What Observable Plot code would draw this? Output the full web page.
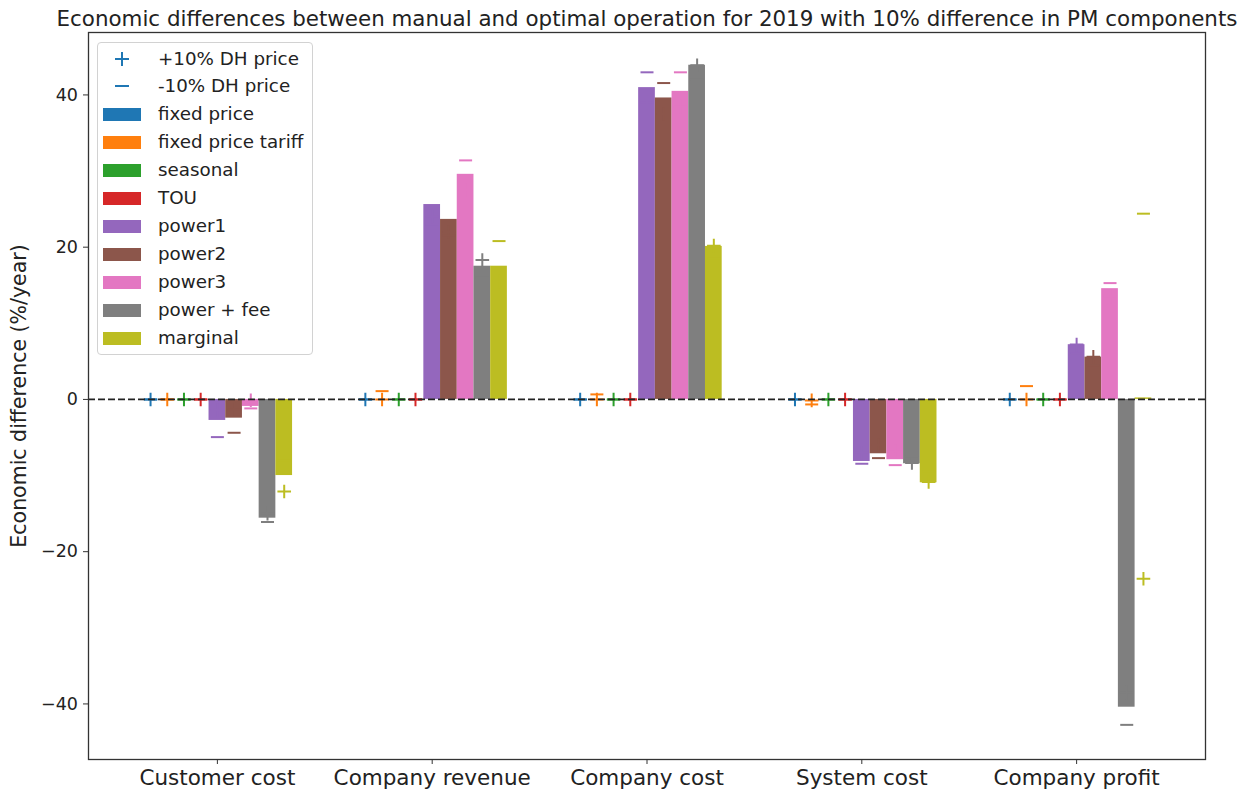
<!DOCTYPE html>
<html>
<head>
<meta charset="utf-8">
<script src="https://cdn.jsdelivr.net/npm/d3@7"></script>
<script src="https://cdn.jsdelivr.net/npm/@observablehq/plot@0.6"></script>
<style>
  body { margin: 0; background: #fff; }
  #wrap { position: relative; width: 1248px; height: 796px; font-family: "DejaVu Sans", sans-serif; }
  #legend { position: absolute; left: 97px; top: 42px; width: 216px; height: 313px; border: 1px solid #d2d2d2;
            border-radius: 4px; background: rgba(255,255,255,0.8); box-sizing: border-box; }
  .lrow { position: absolute; left: 0; height: 28px; width: 214px; }
  .ltext { position: absolute; left: 60px; top: 0; height: 28px; line-height: 28px; font-size: 18.3px; color: #222; white-space: nowrap; }
  .lpatch { position: absolute; left: 5px; top: 8px; width: 38px; height: 13px; }
  .lsym { position: absolute; left: 17px; top: 7px; }
</style>
</head>
<body>
<div id="wrap"><div id="chart"></div><div id="legend"></div></div>
<script>
const categories = ["Customer cost", "Company revenue", "Company cost", "System cost", "Company profit"];
const series = ["fixed price", "fixed price tariff", "seasonal", "TOU", "power1", "power2", "power3", "power + fee", "marginal"];
const colors = ["#1f77b4", "#ff7f0e", "#2ca02c", "#d62728", "#9467bd", "#8c564b", "#e377c2", "#7f7f7f", "#bcbd22"];
const yTicks = [-40, -20, 0, 20, 40];
const markerLabels = ["+10% DH price", "-10% DH price"];

// rows = series, columns = categories
const barValues = [
  [0, 0, 0, 0, 0],
  [0, 0, 0, 0, 0],
  [0, 0, 0, 0, 0],
  [0, 0, 0, 0, 0],
  [-2.76, 25.6, 40.96, -8.15, 7.19],
  [-2.46, 23.65, 39.6, -7.14, 5.56],
  [-0.92, 29.57, 40.47, -7.92, 14.55],
  [-15.6, 17.5, 43.9, -8.45, -40.43],
  [-10.0, 17.5, 20.1, -10.95, 0.2]
];
// +10% DH price
const plusValues = [
  [0, 0, 0, 0, 0],
  [0, 0, 0, -0.13, 0],
  [0, 0, 0, 0, 0],
  [0, 0, 0, 0, 0],
  [-1.4, 24.0, 39.0, -7.0, 7.2],
  [-1.3, 22.0, 37.5, -6.0, 5.6],
  [-0.1, 27.5, 38.5, -6.8, 13.5],
  [-15.0, 18.3, 43.9, -8.34, -38.5],
  [-12.1, 15.5, 20.2, -10.84, -23.56]
];
// -10% DH price
const minusValues = [
  [0, 0, 0, 0, 0],
  [0, 1.09, 0.66, -0.66, 1.75],
  [0, 0, 0, 0, 0],
  [0, 0, 0, 0, 0],
  [-4.95, 23.0, 42.97, -8.45, 6.0],
  [-4.38, 21.5, 41.56, -7.71, 4.5],
  [-1.18, 31.4, 42.97, -8.63, 15.28],
  [-16.1, 16.0, 42.0, -7.5, -42.75],
  [-8.0, 20.8, 18.5, -9.5, 24.4]
];

const barW = 0.7 / series.length;
const rows = [];
series.forEach((s, si) => {
  categories.forEach((c, gi) => {
    const x1 = gi + (si - series.length / 2) * barW;
    rows.push({
      series: s, category: c,
      x1, x2: x1 + barW, xc: x1 + barW / 2,
      bar: barValues[si][gi], plus: plusValues[si][gi], minus: minusValues[si][gi]
    });
  });
});

const plusSymbol = { draw(ctx, size) { const r = Math.sqrt(size / Math.PI);
  ctx.moveTo(-r, 0); ctx.lineTo(r, 0); ctx.moveTo(0, -r); ctx.lineTo(0, r); } };
const minusSymbol = { draw(ctx, size) { const r = Math.sqrt(size / Math.PI);
  ctx.moveTo(-r, 0); ctx.lineTo(r, 0); } };

const chart = Plot.plot({
  width: 1248, height: 796,
  marginLeft: 88, marginRight: 43, marginTop: 32, marginBottom: 37,
  style: { fontFamily: "DejaVu Sans", fontSize: "17.5px", color: "#222", background: "white" },
  x: { type: "linear", domain: [-0.6, 4.6] },
  y: { domain: [-47.3, 48.2] },
  color: { domain: series, range: colors },
  marks: [
    Plot.rect(rows, { x1: "x1", x2: "x2", y1: 0, y2: "bar", fill: "series" }),
    Plot.dot(rows, { x: "xc", y: "plus", symbol: plusSymbol, r: 6.8, stroke: "series", fill: "none", strokeWidth: 2 }),
    Plot.dot(rows, { x: "xc", y: "minus", symbol: minusSymbol, r: 6.5, stroke: "series", fill: "none", strokeWidth: 2 }),
    Plot.ruleY([0], { stroke: "#222", strokeWidth: 1.8, strokeDasharray: "7,3" }),
    Plot.frame({ stroke: "#333", strokeWidth: 1.3 }),
    Plot.axisX({ ticks: d3.range(categories.length), tickFormat: i => categories[i], tickSize: 5, tickPadding: 5.5,
                 fontSize: 21.5, label: null, stroke: "#333" }),
    Plot.axisY({ ticks: yTicks, tickSize: 5, tickPadding: 5.5, label: null, stroke: "#333" }),
    Plot.text(["Economic differences between manual and optimal operation for 2019 with 10% difference in PM components"],
      { frameAnchor: "top", lineAnchor: "bottom", dy: -7, fontSize: 21.4, fill: "#222" }),
    Plot.text(["Economic difference (%/year)"],
      { frameAnchor: "left", textAnchor: "middle", rotate: -90, dx: -69, fontSize: 20.5, fill: "#222" })
  ]
});
document.getElementById("chart").appendChild(chart);

// legend
const legend = document.getElementById("legend");
const rowY0 = 58.5, rowStep = 27.95, legTop = 43;
const entries = [
  { label: markerLabels[0], kind: "plus" },
  { label: markerLabels[1], kind: "minus" },
  ...series.map((s, i) => ({ label: s, kind: "patch", color: colors[i] }))
];
entries.forEach((e, k) => {
  const row = document.createElement("div");
  row.className = "lrow";
  row.style.top = (rowY0 + k * rowStep - 14 - legTop) + "px";
  if (e.kind === "patch") {
    const p = document.createElement("div");
    p.className = "lpatch"; p.style.background = e.color;
    row.appendChild(p);
  } else {
    const svg = d3.create("svg").attr("class", "lsym").attr("width", 14).attr("height", 14);
    svg.append("line").attr("x1", 0).attr("x2", 14).attr("y1", 7).attr("y2", 7).attr("stroke", colors[0]).attr("stroke-width", 2);
    if (e.kind === "plus") svg.append("line").attr("x1", 7).attr("x2", 7).attr("y1", 0).attr("y2", 14).attr("stroke", colors[0]).attr("stroke-width", 2);
    row.appendChild(svg.node());
  }
  const t = document.createElement("div");
  t.className = "ltext"; t.textContent = e.label;
  row.appendChild(t);
  legend.appendChild(row);
});
</script>
</body>
</html>
